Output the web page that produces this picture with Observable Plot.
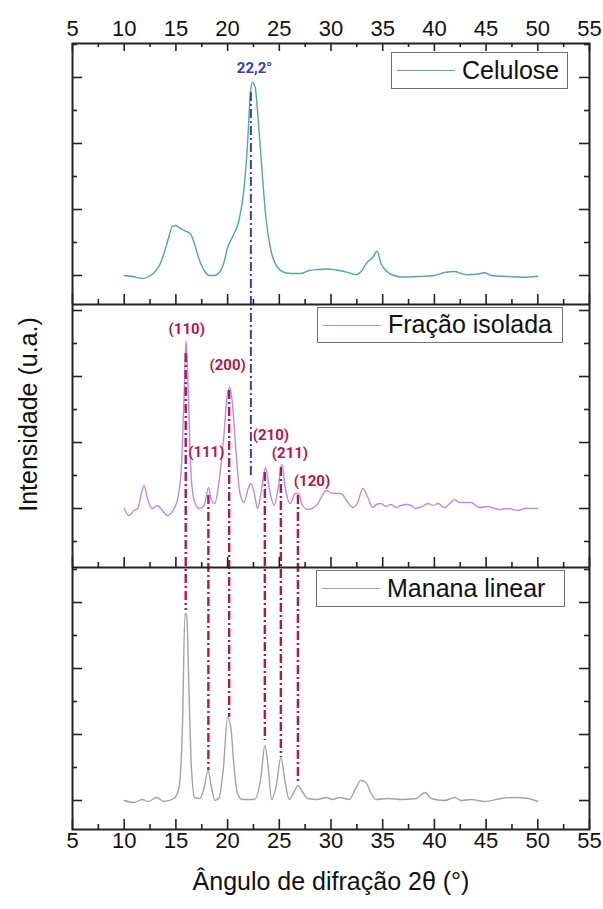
<!DOCTYPE html>
<html><head><meta charset="utf-8">
<script src="https://cdn.jsdelivr.net/npm/d3@7"></script>
<script src="https://cdn.jsdelivr.net/npm/@observablehq/plot@0.6"></script>
<style>
body{margin:0;background:#fff;}
#wrap{position:relative;width:603px;height:909px;font-family:"Liberation Sans",Arial,sans-serif;color:#111;}
.leg{position:absolute;border:1.5px solid #707070;background:#fff;box-sizing:border-box;}
.leg .sw{position:absolute;height:0;border-top:1.5px solid;}
.leg .tx{position:absolute;font-size:25px;line-height:1;white-space:nowrap;}
</style></head><body><div id="wrap"></div>
<script>
// ---- data (intensity in arbitrary units) ----
const celAngle = [10.0,10.8,11.75,12.4,12.9,13.4,13.85,14.3,14.66,14.98,15.3,15.63,16.0,16.37,16.76,17.1,17.4,17.8,18.2,18.7,19.34,19.7,20.0,20.35,20.63,21.1,21.6,21.93,22.2,22.4,22.65,23.0,23.38,23.7,24.19,24.83,25.5,26.12,27.1,27.9,28.8,29.68,30.5,31.13,31.8,32.42,33.0,33.39,34.04,34.46,34.84,35.49,36.1,36.78,38.4,40.0,41.0,41.95,42.6,43.25,44.2,44.85,45.5,47.12,48.41,50.0];
const celInt   = [0,-1,-3,-1,3,10,22,38,49,50,48,46,44,42,33,21,12,4,0,0,5,15,28,36,42,55,88,132,182,193,189,150,98,58,25,8,3,2,2,5,6,6.5,5.5,4.5,2.5,1,5,11.7,18.3,24.3,11.7,3.3,0,-1.5,-1,0,3,4,2,0.7,1.5,2.7,0,-1,-1.7,-0.7];

const fraAngle = [10.0,10.46,10.94,11.33,11.52,11.91,12.3,12.72,13.2,13.69,14.18,14.82,15.2,15.53,15.78,15.98,16.17,16.43,16.76,17.24,17.73,18.15,18.44,18.76,19.18,19.6,19.99,20.2,20.47,20.8,21.2,21.6,21.93,22.25,22.57,22.9,23.22,23.67,24.02,24.5,24.9,25.25,25.57,26.06,26.54,26.83,27.25,27.74,28.6,29.55,30.2,30.97,31.5,32.1,32.59,33.07,33.56,34.04,34.4,34.84,35.3,35.81,36.3,36.78,37.3,37.75,38.2,38.56,39.0,39.37,39.9,40.34,40.98,41.5,41.95,42.4,42.92,43.57,44.0,44.37,45.18,45.8,46.31,47.12,47.6,48.09,48.73,49.4,50.0];
const fraInt   = [0,-7,-2,0,8,23,8,0,3,-2,-7,0,11,41,108,168,125,41,8,0,3,21,8,5,28,68,115,121,105,58,15,6,18,25,16,0,15,41,21,3,21,44,21,5,15,15,3,-1,3,18,15,15,8,1,6,20,11,1,4,5,2,4,1,3,4,3,0,1,3,5,3,5,1,5,9,6,6,6,3,1,2,0,-1,0,-1,-2,0,0,0];

const manAngle = [10.0,10.94,11.75,12.3,13.14,13.85,14.82,15.3,15.63,15.88,16.05,16.27,16.5,16.82,17.33,17.73,18.11,18.44,18.76,19.18,19.6,19.99,20.31,20.63,20.96,21.44,22.57,23.22,23.6,23.93,24.25,24.67,25.16,25.54,25.96,26.39,26.83,27.16,27.74,28.71,29.52,30.16,30.8,31.77,32.42,32.9,33.39,33.88,34.36,35.49,36.78,38.24,39.1,39.69,40.98,41.95,42.6,43.57,44.85,46.47,47.76,49.06,50.0];
const manInt   = [0,-2,1,-1,3,-1,2,13,73,187,185,107,33,3,2,13,30,13,0,3,33,83,73,33,7,1,1,23,55,33,1,13,43,20,1,8,15,10,2,1,3,1,3,1,13,20,18,7,1,2,1,2,8,2,0,3,0,1,-1,2,3,2,-1];

const seriesNames  = ["Celulose", "Fração isolada", "Manana linear"];
const seriesColors = ["#4fa8a3", "#b58cf0", "#a3a3a3"];
const panelOffset  = [525, 292, 0];     // stacking offset of each panel (a.u.)
const panelBreaks  = [233, 496];        // borders between panels (a.u.)
const yDomain      = [-29, 757];

// crystal planes (Fração isolada / Manana linear)
const hklText      = ["(110)", "(111)", "(200)", "(210)", "(211)", "(120)"];
const hklAngle     = [15.95, 18.14, 20.15, 23.6, 25.15, 26.8];
const hklLabelX    = [16.05, 17.94, 20.0, 24.19, 26.03, 28.16];
const hklLabelY    = [471, 348, 435, 365, 347, 319];
const hklTop       = [447, 305, 410, 328, 333, 305];
const hklBottom    = [190, 30, 83, 60, 43, 18];
// cellulose peak
const celPeakText  = "22,2°";
const celPeakAngle = 22.25;
const celPeakLabelX = 22.6, celPeakLabelY = 732, celPeakTop = 708, celPeakBottom = 325;

const xMajor = [5,10,15,20,25,30,35,40,45,50,55];
const xMinor = [7.5,12.5,17.5,22.5,27.5,32.5,37.5,42.5,47.5,52.5];
const yStepMajor = [0, 66, 132, 198];
const yStepMinor = [-33, 33, 99, 165, 231];

const xTitle = "Ângulo de difração 2θ (°)";
const yTitle = "Intensidade (u.a.)";

// ---- build ----
const raw = [[celAngle, celInt], [fraAngle, fraInt], [manAngle, manInt]];
const rows = raw.flatMap(([a, v], i) => a.map((ang, j) => ({angle: ang, y: v[j] + panelOffset[i], series: seriesNames[i]})));

const panelLo = [panelBreaks[1], panelBreaks[0], yDomain[0]];
const panelHi = [yDomain[1], panelBreaks[1], panelBreaks[0]];
const inPanel = (v, i) => v > panelLo[i] + 1 && v < panelHi[i] - 0.5;
const yMajorT = panelOffset.flatMap((o, i) => yStepMajor.map(s => s + o).filter(v => inPanel(v, i)));
const yMinorT = panelOffset.flatMap((o, i) => yStepMinor.map(s => s + o).filter(v => inPanel(v, i)));

const pxPerDeg = (603 - 72 - 14) / 50;
const ink = "#222";
const crimson = "#b3174d", blue = "#3440b5";
const bottoms = [yDomain[0], ...panelBreaks];

const hkl = hklText.map((t, i) => ({t, a: hklAngle[i], lx: hklLabelX[i], ly: hklLabelY[i], y1: hklTop[i], y2: hklBottom[i]}));

const marks = [];
// curves
seriesNames.forEach((s, i) => {
  marks.push(Plot.line(rows.filter(r => r.series === s), {x: "angle", y: "y", stroke: seriesColors[i], strokeWidth: 1.4, curve: "monotone-x"}));
});
// annotation lines
marks.push(Plot.ruleX([celPeakAngle], {y1: celPeakTop, y2: celPeakBottom, stroke: blue, strokeWidth: 2, strokeDasharray: "9,3,2,3"}));
marks.push(Plot.ruleX(hkl, {x: "a", y1: "y1", y2: "y2", stroke: crimson, strokeWidth: 2.4, strokeDasharray: "9,3,2,3"}));
marks.push(Plot.text([celPeakText], {x: celPeakLabelX, y: celPeakLabelY, fill: blue, fontWeight: "bold", fontSize: 15, fontFamily: "Roboto"}));
marks.push(Plot.text(hkl, {x: "lx", y: "ly", text: "t", fill: crimson, fontWeight: "bold", fontSize: 15, fontFamily: "Roboto"}));
// frame & panel borders
marks.push(Plot.frame({stroke: ink, strokeWidth: 2}));
marks.push(Plot.ruleY(panelBreaks, {stroke: ink, strokeWidth: 2}));
// x ticks (inward)
bottoms.forEach(b => {
  marks.push(Plot.ruleX(xMajor, {y1: b, y2: b + 10, stroke: ink, strokeWidth: 1.6}));
  marks.push(Plot.ruleX(xMinor, {y1: b, y2: b + 5, stroke: ink, strokeWidth: 1.6}));
});
marks.push(Plot.ruleX(xMajor, {y1: yDomain[1], y2: yDomain[1] - 8, stroke: ink, strokeWidth: 1.6}));
marks.push(Plot.ruleX(xMinor, {y1: yDomain[1], y2: yDomain[1] - 4, stroke: ink, strokeWidth: 1.6}));
// y ticks (inward, both sides)
marks.push(Plot.ruleY(yMajorT, {x1: 5, x2: 5 + 10 / pxPerDeg, stroke: ink, strokeWidth: 1.6}));
marks.push(Plot.ruleY(yMinorT, {x1: 5, x2: 5 + 5 / pxPerDeg, stroke: ink, strokeWidth: 1.6}));
marks.push(Plot.ruleY(yMajorT, {x1: 55, x2: 55 - 10 / pxPerDeg, stroke: ink, strokeWidth: 1.6}));
marks.push(Plot.ruleY(yMinorT, {x1: 55, x2: 55 - 5 / pxPerDeg, stroke: ink, strokeWidth: 1.6}));
// tick labels
marks.push(Plot.text(xMajor, {x: d => d, frameAnchor: "top", dy: -23, fontSize: 22, fill: "#111"}));
marks.push(Plot.text(xMajor, {x: d => d, frameAnchor: "bottom", dy: 18, fontSize: 22, fill: "#111"}));
// titles
marks.push(Plot.text([xTitle], {frameAnchor: "bottom", dy: 60, fontSize: 25, fill: "#111"}));
marks.push(Plot.text([yTitle], {frameAnchor: "left", textAnchor: "middle", dx: -44, dy: -22, rotate: -90, fontSize: 25, fill: "#111"}));

const chart = Plot.plot({
  width: 603, height: 909,
  marginLeft: 72, marginRight: 14, marginTop: 43, marginBottom: 80,
  x: {domain: [5, 55], axis: null},
  y: {domain: yDomain, axis: null},
  style: {fontFamily: '"Liberation Sans", Arial, sans-serif', background: "#fff", overflow: "visible"},
  marks
});
const wrap = document.getElementById("wrap");
wrap.appendChild(chart);

// legends (one box per panel)
const legBoxes = [
  {left: 391, top: 52, w: 177, h: 37},
  {left: 317, top: 307, w: 246, h: 36},
  {left: 316, top: 570, w: 249, h: 37}
];
seriesNames.forEach((s, i) => {
  const b = legBoxes[i];
  const d = document.createElement("div");
  d.className = "leg";
  d.style.cssText = `left:${b.left}px;top:${b.top}px;width:${b.w}px;height:${b.h}px;`;
  const sw = document.createElement("div");
  sw.className = "sw";
  sw.style.cssText = `left:5px;width:58px;top:${b.h/2 - 1.5}px;border-color:${seriesColors[i]};`;
  const tx = document.createElement("div");
  tx.className = "tx";
  tx.style.cssText = `left:70px;top:${b.h/2 - 14}px;`;
  tx.textContent = s;
  d.appendChild(sw); d.appendChild(tx);
  wrap.appendChild(d);
});
</script></body></html>
